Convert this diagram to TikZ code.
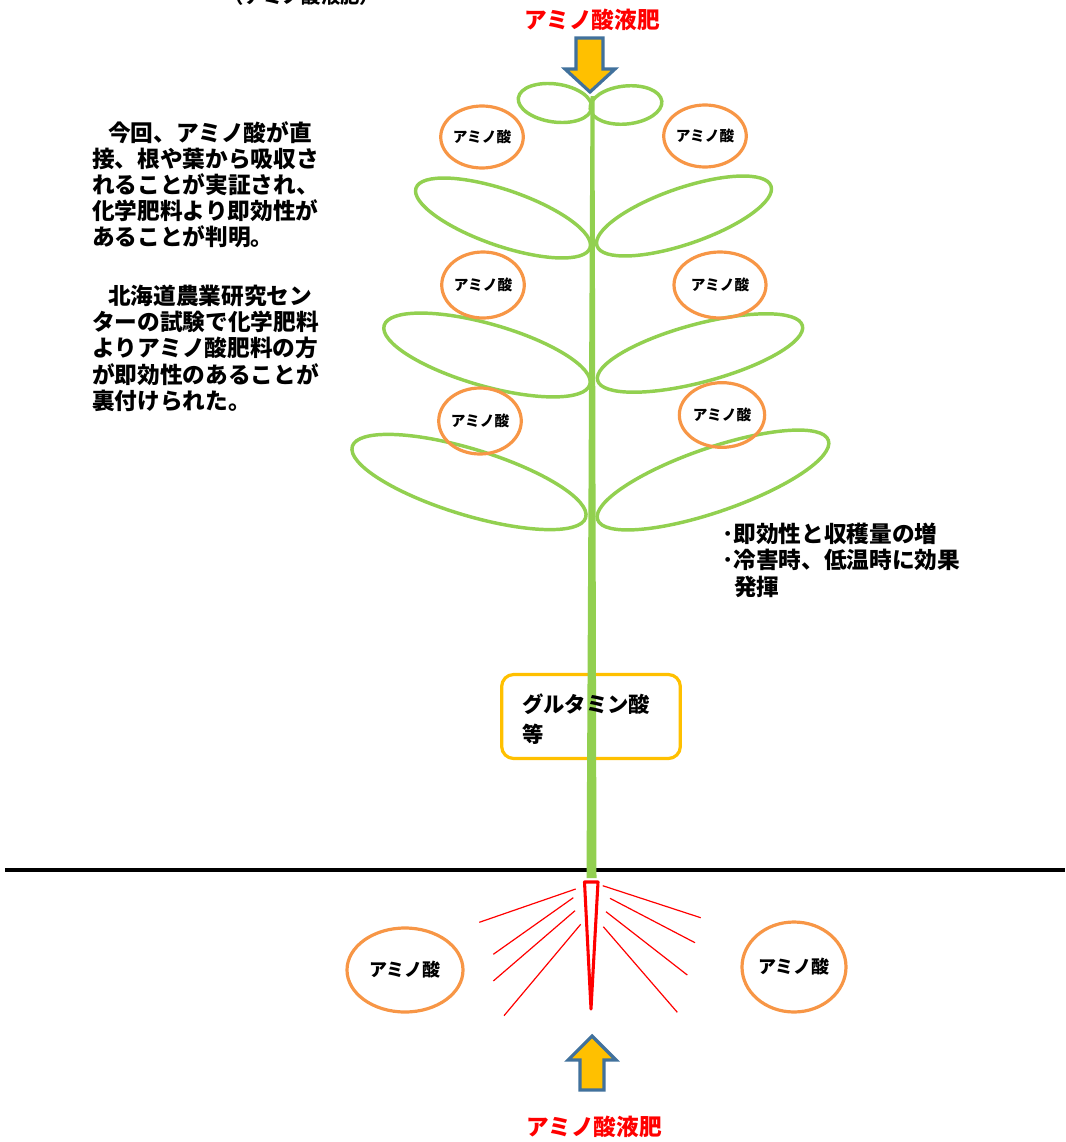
\documentclass[tikz,border=0pt]{standalone}
\usepackage{fontspec}
\setmainfont{Noto Sans CJK JP}
\usepackage{xcolor}
\usetikzlibrary{shapes.geometric}
\usetikzlibrary{positioning}
\tikzset{>=stealth}
\definecolor{leafgreen}{HTML}{92D050}
\definecolor{aminoorange}{HTML}{F79646}
\definecolor{fillyellow}{HTML}{FFC000}
\definecolor{arrowblue}{HTML}{41719C}
\newcommand{\jpsize}[2]{\fontsize{#1}{#2}\selectfont\bfseries}

\begin{document}
\begin{tikzpicture}[x=0.75pt,y=-0.75pt,
    leaf/.style={draw=leafgreen,line width=2.6pt},
    amino/.style={ellipse,draw=aminoorange,line width=2.4pt,inner sep=0pt,font=\jpsize{11}{13}},
    bigamino/.style={amino,font=\jpsize{13.5}{16}},
    feed/.style={draw=arrowblue,fill=fillyellow,line width=2.4pt,line join=miter},
    feedlabel/.style={text=red,font=\jpsize{17}{20}},
    note/.style={align=left,inner sep=0pt,font=\jpsize{17}{19.6}},
    ray/.style={draw=red,line width=0.9pt}]
    \useasboundingbox (0,0) rectangle (1065,1142);
    \clip (0,0) rectangle (1065,1142);

    \node[font=\jpsize{14.5}{17}] (oldlabel) at (302,-4) {（アミノ酸液肥）};

    \node[feedlabel] (toplabel) at (592,20) {アミノ酸液肥};
    \draw[feed] (576,38) -- (603,38) -- (603,69) -- (615,69) -- (590,92)
        -- (565,69) -- (576,69) -- cycle;

    \draw[line width=3pt] (5,870) -- (1065,870);

    \node[draw=fillyellow,line width=2.4pt,rounded corners=9pt,
        minimum width=134pt,minimum height=63pt] (glubox) at (591,716.5) {};

    \fill[leafgreen] (590.5,96) -- (594.5,96) -- (596.5,878) -- (586.5,878) -- cycle;

    \draw[leaf,rotate around={-8:(555,103)}] (555,103) ellipse (37 and 19);
    \draw[leaf,rotate around={6:(626,105)}] (626,105) ellipse (36 and 19);
    \draw[leaf,rotate around={-19:(503,218)}] (503,218) ellipse (92 and 28);
    \draw[leaf,rotate around={19:(684,216)}] (684,216) ellipse (92 and 28);
    \draw[leaf,rotate around={-16:(487,355)}] (487,355) ellipse (107 and 31);
    \draw[leaf,rotate around={15:(700,353)}] (700,353) ellipse (106 and 29);
    \draw[leaf,rotate around={-17:(469,482)}] (469,482) ellipse (122 and 33);
    \draw[leaf,rotate around={19:(713,480)}] (713,480) ellipse (122 and 32);

    \node[amino,minimum width=52.5pt,minimum height=46.5pt] (aminoA) at (482,137) {アミノ酸};
    \node[amino,minimum width=52.5pt,minimum height=46.5pt] (aminoB) at (705,136) {アミノ酸};
    \node[amino,minimum width=56pt,minimum height=49.5pt] (aminoC) at (483,285) {アミノ酸};
    \node[amino,minimum width=69pt,minimum height=49.5pt] (aminoD) at (720,285) {アミノ酸};
    \node[amino,minimum width=56pt,minimum height=49.5pt] (aminoE) at (480,421) {アミノ酸};
    \node[amino,minimum width=64pt,minimum height=48.5pt] (aminoF) at (722,415) {アミノ酸};
    \node[bigamino,minimum width=87pt,minimum height=63pt] (aminoG) at (405,970) {アミノ酸};
    \node[bigamino,minimum width=78pt,minimum height=67.5pt] (aminoH) at (794,967) {アミノ酸};

    \node[note,anchor=north west] (para1) at (92,121)
        {\hspace{12pt}今回、アミノ酸が直\\接、根や葉から吸収さ\\れることが実証され、\\化学肥料より即効性が\\あることが判明。};
    \node[note,anchor=north west] (para2) at (92,285)
        {\hspace{12pt}北海道農業研究セン\\ターの試験で化学肥料\\よりアミノ酸肥料の方\\が即効性のあることが\\裏付けられた。};
    \node[note,anchor=north west] (effect) at (722,523)
        {･即効性と収穫量の増\\･冷害時、低温時に効果\\\hspace{9pt}発揮};
    \node[note,anchor=north west,font=\jpsize{16}{22.5}] (glutext) at (522,693)
        {グルタミン酸\\等};

    \draw[draw=red,line width=2.3pt,line join=round] (584.5,882) -- (598,882) -- (591,1009) -- cycle;
    \foreach \xa/\ya/\xb/\yb in {575.7/889/479.3/922.3, 573.3/897.7/493.3/954.3,
        575/910.7/493.3/981, 580.7/924.3/504/1015.7, 602.7/885.7/700.7/917.7,
        610/898.3/695/942.7, 606/911.7/687.3/975, 603.3/926.7/677.3/1012.3}
        \draw[ray] (\xa,\ya) -- (\xb,\yb);

    \draw[feed] (580,1090) -- (604,1090) -- (604,1060) -- (616,1060) -- (592,1036)
        -- (568,1060) -- (580,1060) -- cycle;
    \node[feedlabel] (bottomlabel) at (594,1127) {アミノ酸液肥};
\end{tikzpicture}
\end{document}
